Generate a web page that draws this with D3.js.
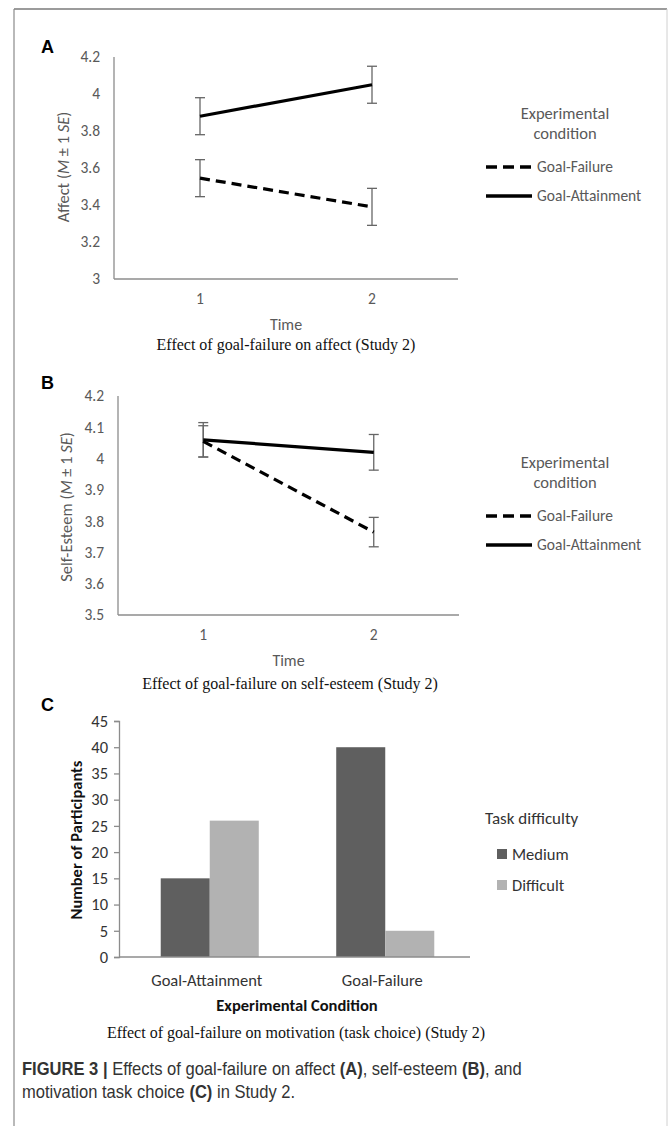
<!doctype html>
<html lang="en">
<head>
<meta charset="utf-8"/>
<title>Effects of goal-failure (Study 2)</title>
<style>
    body { margin: 0; background: #fff; }
    .calibri { font-family: Carlito, Lato, "Open Sans", sans-serif; }
    .serif { font-family: "Liberation Serif", "DejaVu Serif", serif; }
    .narrow { font-family: "Liberation Sans", Arial, sans-serif; }
</style>
<script src="https://d3js.org/d3.v7.min.js"></script>
</head>
<body>
<svg width="668" height="1126"></svg>
<script>
// ---- data ----
var times = ["1", "2"];

// panel A: affect
var affectAttain = [3.88, 4.05];
var affectAttainSE = [0.10, 0.10];
var affectFail = [3.545, 3.39];
var affectFailSE = [0.10, 0.10];
var affectTicks = [3, 3.2, 3.4, 3.6, 3.8, 4, 4.2];

// panel B: self-esteem
var esteemAttain = [4.06, 4.02];
var esteemAttainSE = [0.055, 0.057];
var esteemFail = [4.055, 3.765];
var esteemFailSE = [0.05, 0.047];
var esteemTicks = [3.5, 3.6, 3.7, 3.8, 3.9, 4, 4.1, 4.2];

// panel C: task choice
var conditions = ["Goal-Attainment", "Goal-Failure"];
var difficulty = ["Medium", "Difficult"];
var medium = [15, 40];
var difficult = [26, 5];
var countTicks = [0, 5, 10, 15, 20, 25, 30, 35, 40, 45];

var seriesNames = ["Goal-Failure", "Goal-Attainment"];
var barColors = ["#5f5f5f", "#b2b2b2"];

var svg = d3.select("svg");
var axisGray = "#8c8c8c", textGray = "#595959";

// outer frame
svg.append("line").attr("x1", 14).attr("y1", 9).attr("x2", 667).attr("y2", 9)
   .attr("stroke", "#7a7a7a").attr("stroke-width", 1.5);
svg.append("line").attr("x1", 14).attr("y1", 9).attr("x2", 14).attr("y2", 1126)
   .attr("stroke", "#8a8a8a").attr("stroke-width", 1.2);
svg.append("line").attr("x1", 667).attr("y1", 9).attr("x2", 667).attr("y2", 1126)
   .attr("stroke", "#d0d0d0").attr("stroke-width", 1);

function panelLetter(txt, y) {
    svg.append("text").attr("x", 41).attr("y", y)
       .attr("font-family", "Liberation Sans, Arial, sans-serif")
       .attr("font-weight", "bold").attr("font-size", 18).text(txt);
}

function linePanel(opt) {
    var x = d3.scaleBand().domain(times).range([opt.left, opt.right]);
    var y = d3.scaleLinear().domain(opt.domain).range([opt.bottom, opt.top]);
    var cx = function(d) { return x(d) + x.bandwidth() / 2; };
    var g = svg.append("g").attr("class", "calibri");

    var yAxis = g.append("g").attr("transform", "translate(" + opt.left + ",0)")
        .call(d3.axisLeft(y).tickValues(opt.ticks).tickSize(0).tickPadding(14)
              .tickFormat(function(d) { return d3.format("")(+d.toFixed(1)); }));
    var xAxis = g.append("g").attr("transform", "translate(0," + opt.bottom + ")")
        .call(d3.axisBottom(x).tickSize(0).tickPadding(14));
    [xAxis, yAxis].forEach(function(a) {
        a.attr("font-family", null).attr("font-size", null);
        a.select(".domain").attr("stroke", axisGray).attr("stroke-width", 1.3);
        a.selectAll("text").attr("fill", textGray).attr("font-size", 15.5);
    });
    xAxis.select(".domain").attr("d", "M" + opt.left + ",0H" + opt.right);
    yAxis.select(".domain").attr("d", "M0," + opt.top + "V" + opt.bottom);

    var series = [
        {vals: opt.fail, se: opt.failSE, dash: "10,6"},
        {vals: opt.attain, se: opt.attainSE, dash: null}
    ];
    var line = d3.line().x(function(d, i) { return cx(times[i]); }).y(function(d) { return y(d); });

    series.forEach(function(s) {
        s.vals.forEach(function(v, i) {
            var px = cx(times[i]);
            var top = y(v + s.se[i]), bot = y(v - s.se[i]);
            g.append("line").attr("x1", px).attr("x2", px).attr("y1", top).attr("y2", bot)
             .attr("stroke", "#666").attr("stroke-width", 1.3);
            [top, bot].forEach(function(yy) {
                g.append("line").attr("x1", px - 5).attr("x2", px + 5).attr("y1", yy).attr("y2", yy)
                 .attr("stroke", "#666").attr("stroke-width", 1.3);
            });
        });
    });
    series.forEach(function(s) {
        g.append("path").datum(s.vals).attr("d", line).attr("fill", "none")
         .attr("stroke", "#000").attr("stroke-width", 3.2)
         .attr("stroke-dasharray", s.dash);
    });

    // y label
    var yl = g.append("text").attr("transform", "translate(" + opt.ylx + "," + opt.yly + ") rotate(-90)")
        .attr("text-anchor", "middle").attr("fill", textGray).attr("font-size", 16.5);
    yl.append("tspan").text(opt.ylabel + " (");
    yl.append("tspan").attr("font-style", "italic").text("M");
    yl.append("tspan").text(" \u00b1 1 ");
    yl.append("tspan").attr("font-style", "italic").text("SE");
    yl.append("tspan").text(")");

    g.append("text").attr("x", (opt.left + opt.right) / 2).attr("y", opt.bottom + 51)
     .attr("text-anchor", "middle").attr("fill", textGray).attr("font-size", 16).text("Time");

    // legend
    g.append("text").attr("x", opt.legX + 28).attr("y", opt.legY)
     .attr("text-anchor", "middle").attr("fill", textGray).attr("font-size", 16.5)
     .selectAll("tspan").data(["Experimental", "condition"]).join("tspan")
     .attr("x", opt.legX + 28).attr("dy", function(d, i) { return i ? 20 : 0; }).text(function(d) { return d; });
    series.forEach(function(s, i) {
        var ly = opt.legY + 48 + i * 29;
        g.append("line").attr("x1", opt.legX - 51).attr("x2", opt.legX - 5).attr("y1", ly).attr("y2", ly)
         .attr("stroke", "#000").attr("stroke-width", 3.4).attr("stroke-dasharray", s.dash ? "11,6" : null);
        g.append("text").attr("x", opt.legX).attr("y", ly + 5).attr("fill", textGray)
         .attr("font-size", 15.5).text(seriesNames[i]);
    });

    svg.append("text").attr("class", "serif").attr("x", opt.capX).attr("y", opt.capY)
       .attr("text-anchor", "middle").attr("font-size", 16).attr("fill", "#111").text(opt.caption);
}

panelLetter("A", 53);
linePanel({
    left: 114, right: 458, top: 57, bottom: 279,
    domain: [3, 4.2], ticks: affectTicks,
    attain: affectAttain, attainSE: affectAttainSE, fail: affectFail, failSE: affectFailSE,
    ylabel: "Affect", ylx: 69, yly: 167,
    legX: 537, legY: 119,
    caption: "Effect of goal-failure on affect (Study 2)", capX: 286, capY: 350
});

panelLetter("B", 389);
linePanel({
    left: 118, right: 459, top: 396, bottom: 615,
    domain: [3.5, 4.2], ticks: esteemTicks,
    attain: esteemAttain, attainSE: esteemAttainSE, fail: esteemFail, failSE: esteemFailSE,
    ylabel: "Self-Esteem", ylx: 72, yly: 507,
    legX: 537, legY: 468,
    caption: "Effect of goal-failure on self-esteem (Study 2)", capX: 290, capY: 689
});

// ---- panel C: bars ----
panelLetter("C", 711);
var cL = 119, cR = 470, cT = 721, cB = 957;
var xC = d3.scaleBand().domain(conditions).range([cL, cR]).paddingInner(0).paddingOuter(0);
var xSub = d3.scaleBand().domain(difficulty).range([0, xC.bandwidth()]).paddingOuter(0.79);
var yC = d3.scaleLinear().domain([0, 45]).range([cB, cT]);
var gc = svg.append("g").attr("class", "calibri");
var darkText = "#333";

var barData = [];
conditions.forEach(function(c, i) {
    barData.push({cond: c, key: "Medium", v: medium[i]});
    barData.push({cond: c, key: "Difficult", v: difficult[i]});
});
gc.selectAll("rect.bar").data(barData).join("rect").attr("class", "bar")
  .attr("x", function(d) { return xC(d.cond) + xSub(d.key) + 3; })
  .attr("width", xSub.bandwidth())
  .attr("y", function(d) { return yC(d.v); })
  .attr("height", function(d) { return cB - yC(d.v); })
  .attr("fill", function(d) { return barColors[difficulty.indexOf(d.key)]; });

var yAxC = gc.append("g").attr("transform", "translate(" + cL + ",0)")
    .call(d3.axisLeft(yC).tickValues(countTicks).tickSizeInner(5).tickSizeOuter(5).tickPadding(6));
var xAxC = gc.append("g").attr("transform", "translate(0," + cB + ")")
    .call(d3.axisBottom(xC).tickSize(0).tickPadding(17));
[yAxC, xAxC].forEach(function(a) {
    a.attr("font-family", null).attr("font-size", null);
    a.select(".domain").attr("stroke", axisGray).attr("stroke-width", 1.3);
    a.selectAll(".tick line").attr("stroke", axisGray).attr("stroke-width", 1.3);
    a.selectAll("text").attr("fill", darkText).attr("font-size", 16.5);
});
xAxC.select(".domain").attr("d", "M" + cL + ",0H" + cR);

gc.append("text").attr("x", 297).attr("y", 1011).attr("text-anchor", "middle")
  .attr("font-weight", "bold").attr("font-size", 16.5).attr("fill", "#111").text("Experimental Condition");
gc.append("text").attr("transform", "translate(82,840) rotate(-90)").attr("text-anchor", "middle")
  .attr("font-weight", "bold").attr("font-size", 16.5).attr("fill", "#111").text("Number of Participants");

gc.append("text").attr("x", 485).attr("y", 824).attr("font-size", 17).attr("fill", darkText).text("Task difficulty");
difficulty.forEach(function(k, i) {
    var ly = 854 + i * 31;
    gc.append("rect").attr("x", 497).attr("y", ly - 5).attr("width", 10).attr("height", 10).attr("fill", barColors[i]);
    gc.append("text").attr("x", 512).attr("y", ly + 6).attr("font-size", 16.5).attr("fill", darkText).text(k);
});

svg.append("text").attr("class", "serif").attr("x", 296).attr("y", 1038)
   .attr("text-anchor", "middle").attr("font-size", 16).attr("fill", "#111")
   .text("Effect of goal-failure on motivation (task choice) (Study 2)");

// ---- figure caption (condensed) ----
var cap1 = svg.append("text").attr("class", "narrow").attr("transform", "translate(22,1075) scale(0.92,1)")
    .attr("font-size", 18).attr("fill", "#333");
cap1.append("tspan").attr("font-weight", "bold").text("FIGURE 3");
cap1.append("tspan").attr("font-weight", "bold").text("  |  ");
cap1.append("tspan").text("Effects of goal-failure on affect ");
cap1.append("tspan").attr("font-weight", "bold").text("(A)");
cap1.append("tspan").text(", self-esteem ");
cap1.append("tspan").attr("font-weight", "bold").text("(B)");
cap1.append("tspan").text(", and");
var cap2 = svg.append("text").attr("class", "narrow").attr("transform", "translate(22,1098) scale(0.92,1)")
    .attr("font-size", 18).attr("fill", "#333");
cap2.append("tspan").text("motivation task choice ");
cap2.append("tspan").attr("font-weight", "bold").text("(C)");
cap2.append("tspan").text(" in Study 2.");
</script>
</body>
</html>
